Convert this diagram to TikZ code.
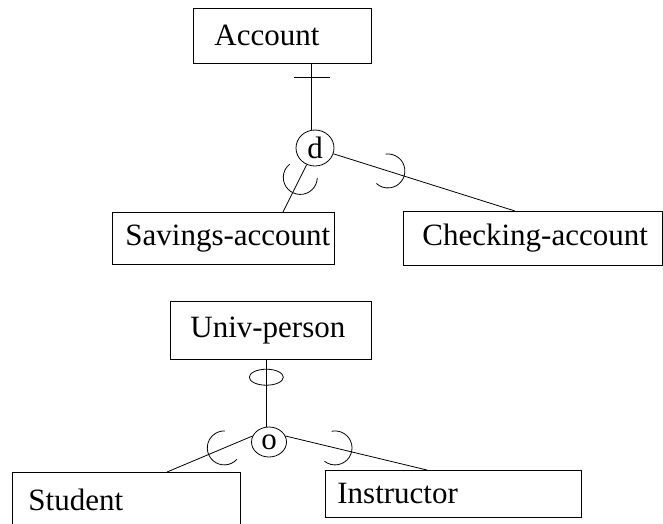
\documentclass[tikz,border=0pt]{standalone}
\usepackage{fontspec}
\setmainfont{Liberation Serif}
\usetikzlibrary{shapes.geometric}
\setlength{\parindent}{0pt}
\newcommand{\erfont}{\fontsize{31}{37}\selectfont}

\begin{document}
\begin{tikzpicture}[x=1pt,y=-1pt,line width=0.8pt,font=\erfont,
ent/.style={draw,anchor=north west,inner xsep=0pt,inner ysep=0pt,align=left},
spec/.style={draw,ellipse,inner sep=0pt},
subset/.pic={\draw (115:17pt) arc[start angle=115,end angle=-115,radius=17pt];}]
\useasboundingbox (0,0) rectangle (663,523);
\node[ent,text width=178pt,minimum height=55pt] (acc) at (193,8) {\hspace*{21pt}Account};
\node[ent,text width=222pt,minimum height=52pt] (sav) at (112,212) {\hspace*{13pt}Savings-account};
\node[ent,text width=259pt,minimum height=54pt] (chk) at (403,211) {\hspace*{19pt}Checking-account};
\node[ent,text width=201pt,minimum height=58pt] (up) at (170,301) {\hspace*{20pt}Univ-person};
\node[ent,text width=228pt,minimum height=55pt] (stu) at (12,472) {\hspace*{16pt}Student};
\node[ent,text width=256pt,minimum height=47pt] (ins) at (325,470) {\hspace*{12pt}Instructor};
\node[spec,minimum width=38pt,minimum height=36pt] (d) at (315,148) {d};
\node[spec,minimum width=35pt,minimum height=30pt] (o) at (269,442) {o};
\draw (d.100) -- coordinate[pos=.8] (tk) (d.100 |- acc.south);
\draw ([xshift=-18pt]tk) -- ([xshift=18pt]tk);
\draw (d) -- pic[pos=.27,sloped,allow upside down]{subset} ([xshift=171pt]sav.north west);
\draw (d) -- pic[pos=.3,sloped,allow upside down]{subset} ([xshift=112pt]chk.north west);
\draw (o.100) -- coordinate[pos=.74] (ov) (o.100 |- up.south);
\draw (ov) ellipse[x radius=17pt,y radius=8pt];
\draw (o.160) -- pic[pos=.33,sloped,allow upside down]{subset} ([xshift=155pt]stu.north west);
\draw (o.20) -- pic[pos=.35,sloped,allow upside down]{subset} ([xshift=102pt]ins.north west);
\end{tikzpicture}
\end{document}
